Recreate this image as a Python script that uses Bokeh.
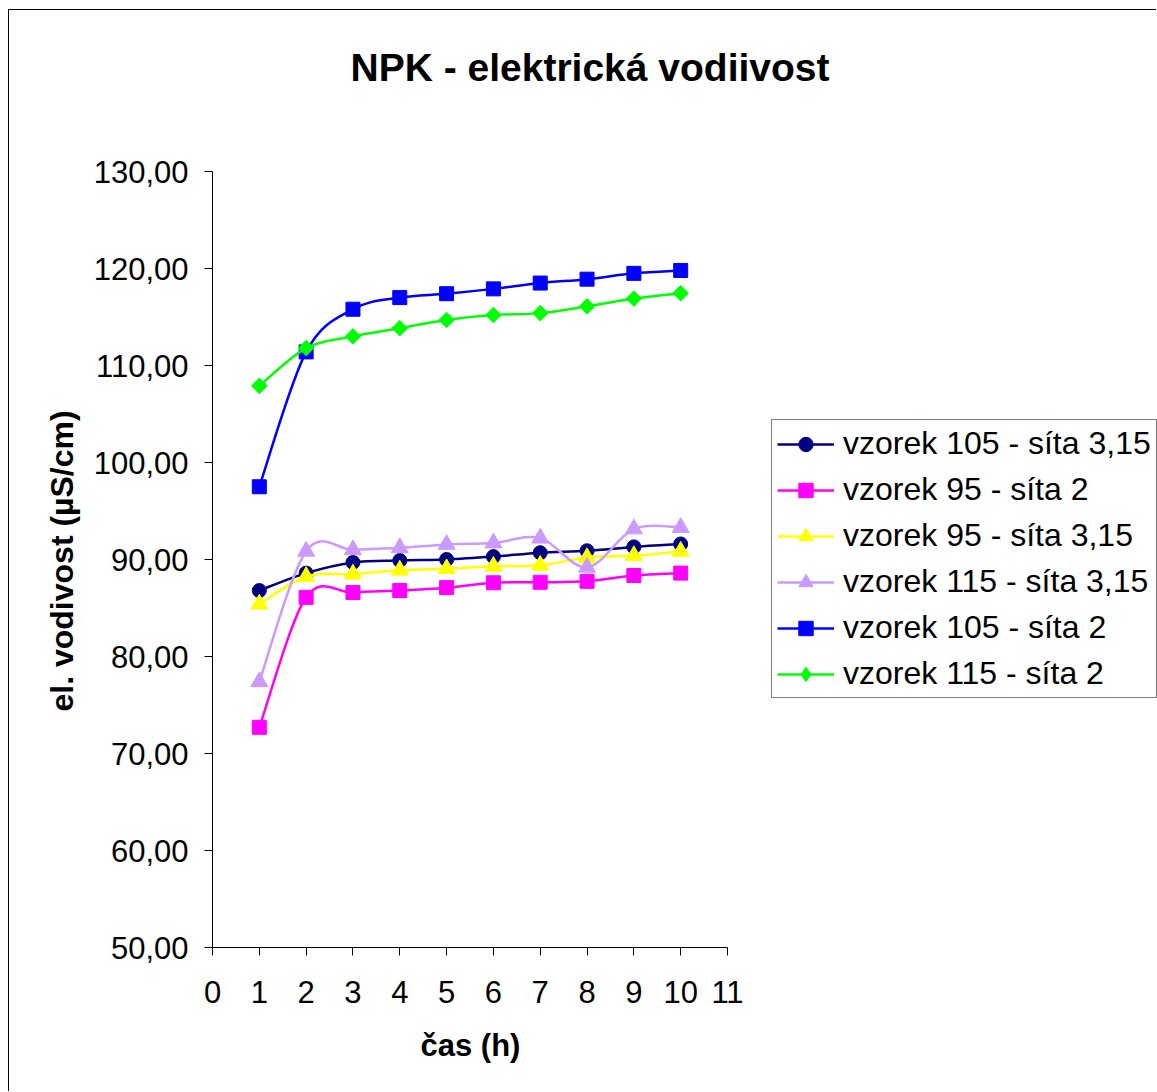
import numpy as np
from bokeh.plotting import figure
from bokeh.models import (Legend, LegendItem, FixedTicker, CustomJSTickFormatter, Range1d,
                          Title, Label)
from bokeh.embed import file_html
from bokeh.resources import INLINE

# ---- data ----
hours = [1, 2, 3, 4, 5, 6, 7, 8, 9, 10]
v105_315 = [86.8, 88.6, 89.7, 89.9, 90.0, 90.3, 90.7, 90.9, 91.3, 91.6]
v95_2 = [72.7, 86.1, 86.6, 86.8, 87.1, 87.6, 87.65, 87.75, 88.35, 88.6]
v95_315 = [85.4, 88.25, 88.5, 88.9, 89.05, 89.3, 89.4, 90.2, 90.4, 90.85]
v115_315 = [77.4, 90.85, 91.0, 91.2, 91.55, 91.7, 92.2, 89.2, 93.15, 93.3]
v105_2 = [97.5, 111.4, 115.8, 117.0, 117.4, 117.9, 118.5, 118.9, 119.5, 119.8]
v115_2 = [107.9, 111.8, 113.0, 113.85, 114.7, 115.2, 115.4, 116.1, 116.9, 117.45]

series_names = ["vzorek 105 - síta 3,15", "vzorek 95 - síta 2", "vzorek 95 - síta 3,15",
                "vzorek 115 - síta 3,15", "vzorek 105 - síta 2", "vzorek 115 - síta 2"]
series_values = [v105_315, v95_2, v95_315, v115_315, v105_2, v115_2]
x_ticks = list(range(0, 12))
y_ticks = list(range(50, 131, 10))
x_min, x_max = 0, 11
y_min, y_max = 50, 130

styles = [
    dict(color="#000080", marker="circle", size=14, angle=0.0, legend_marker="circle"),
    dict(color="#FF00FF", marker="square", size=14, angle=0.0, legend_marker="square"),
    dict(color="#FFFF00", marker="triangle", size=17, angle=0.0, legend_marker="triangle"),
    dict(color="#CC99FF", marker="triangle", size=17, angle=0.0, legend_marker="triangle"),
    dict(color="#0000FF", marker="square", size=14, angle=0.0, legend_marker="square"),
    dict(color="#00FF00", marker="square", size=11, angle=np.pi / 4, legend_marker="diamond"),
]

FONT = "Liberation Sans"
OX, OY = 9, 10            # figure offset inside the page (margin + border)
W, H = 1157 - OX, 1092 - OY
FL, FB = 212 - OX, 947 - OY
AXIS_W, AXIS_H = 515, 776  # pixel lengths of the x (0..11) and y (50..130) axes
FRAME_W, FRAME_H = W - FL, FB   # frame reaches the right and top edges (no clipping)

p = figure(width=W, height=H,
           x_range=Range1d(x_min, x_min + (x_max - x_min) * FRAME_W / AXIS_W),
           y_range=Range1d(y_min, y_min + (y_max - y_min) * FRAME_H / AXIS_H),
           output_backend="svg", toolbar_location=None,
           min_border_left=FL, min_border_right=0, min_border_top=0,
           min_border_bottom=H - FB)
p.margin = (9, 0, 0, 8)
p.styles = {"border-left": "1px solid black", "border-top": "1px solid black"}
p.outline_line_color = None
p.xgrid.visible = False
p.ygrid.visible = False
p.background_fill_color = "white"
p.border_fill_color = "white"

for ax in (p.xaxis[0], p.yaxis[0]):
    ax.axis_line_color = "black"
    ax.axis_line_width = 1
    ax.major_tick_line_color = "black"
    ax.major_tick_out = 8
    ax.major_tick_in = 0
    ax.minor_tick_line_color = None
    ax.major_label_text_font = FONT
    ax.major_label_text_font_size = "31px"
    ax.major_label_text_color = "black"

p.xaxis.bounds = (x_min, x_max)
p.yaxis.bounds = (y_min, y_max)
p.xaxis.ticker = FixedTicker(ticks=x_ticks)
p.yaxis.ticker = FixedTicker(ticks=y_ticks)
p.yaxis.formatter = CustomJSTickFormatter(code="return tick.toFixed(2).replace('.', ',');")
p.xaxis.major_label_standoff = 25
p.yaxis.major_label_standoff = 16

# axis titles
p.add_layout(Title(text="čas (h)", align="left", offset=420 - 212, text_font=FONT,
                   text_font_size="31px", text_font_style="bold", text_color="black",
                   standoff=40), "below")
p.add_layout(Title(text="el. vodivost (µS/cm)", align="left", offset=947 - 711, text_font=FONT,
                   text_font_size="32px", text_font_style="bold", text_color="black",
                   standoff=22), "left")

# chart title
p.add_layout(Label(x=589.5 - 212, y=947 - 67, x_units="screen", y_units="screen",
                   text="NPK - elektrická vodiivost", text_align="center",
                   text_baseline="middle", text_font=FONT, text_font_size="39px",
                   text_font_style="bold", text_color="black"))


def bezier_segments(xs, ys):
    P = np.column_stack([xs, ys]).astype(float)
    n = len(P)
    out = {k: [] for k in ("x0", "y0", "x1", "y1", "cx0", "cy0", "cx1", "cy1")}
    for i in range(n - 1):
        p0 = P[max(i - 1, 0)]
        p1 = P[i]
        p2 = P[i + 1]
        p3 = P[min(i + 2, n - 1)]
        c0 = p1 + (p2 - p0) / 6.0
        c1 = p2 - (p3 - p1) / 6.0
        out["x0"].append(p1[0]); out["y0"].append(p1[1])
        out["x1"].append(p2[0]); out["y1"].append(p2[1])
        out["cx0"].append(c0[0]); out["cy0"].append(c0[1])
        out["cx1"].append(c1[0]); out["cy1"].append(c1[1])
    return out


items = []
for name, vals, st in zip(series_names, series_values, styles):
    seg = bezier_segments(hours, vals)
    lr = p.bezier(line_color=st["color"], line_width=2.5, **seg)
    sr = p.scatter(hours, vals, marker=st["marker"], size=st["size"], angle=st["angle"],
                   fill_color=st["color"], line_color=st["color"], line_width=1)
    if st["legend_marker"] != st["marker"]:
        # legend-only proxy (not drawn: NaN position) for the rotated marker shape
        sr = p.scatter([np.nan], [np.nan], marker=st["legend_marker"], size=st["size"],
                       fill_color=st["color"], line_color=st["color"], line_width=1)
    items.append(LegendItem(label=name, renderers=[lr, sr]))

legend = Legend(items=items, location=(771 - 212, 947 - 698),
                label_text_font=FONT, label_text_font_size="32px", label_text_color="black",
                glyph_width=57, glyph_height=36, label_height=36, label_standoff=9,
                spacing=9, padding=5, margin=0,
                border_line_color="black", border_line_width=1,
                background_fill_color="white", background_fill_alpha=1.0)
p.add_layout(legend, "center")

open("out.html", "w").write(file_html(p, INLINE))
